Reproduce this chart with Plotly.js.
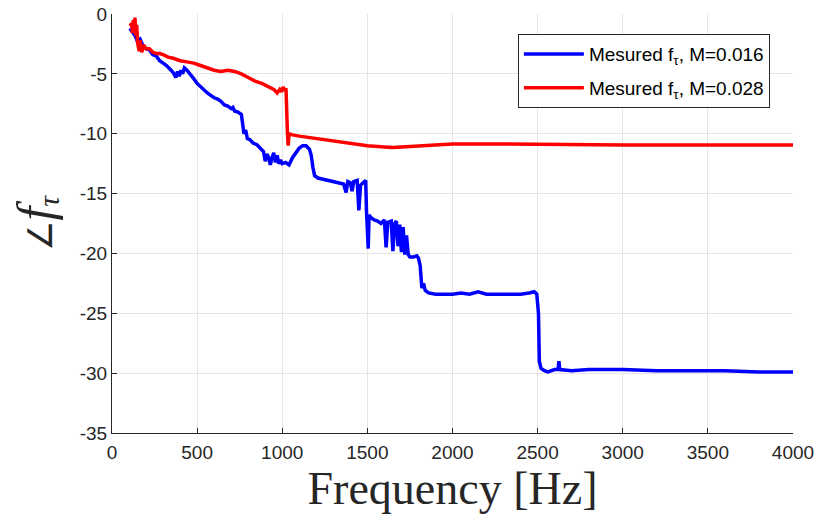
<!DOCTYPE html>
<html>
<head>
<meta charset="utf-8">
<script src="https://cdn.plot.ly/plotly-3.0.1.min.js"></script>
<style>html,body{margin:0;padding:0;background:#fff;}#chart{width:831px;height:514px;}</style>
</head>
<body>
<div id="chart"></div>
<script>
// Blue series: M = 0.016
const blueFreq = [105,120,135,150,165,180,200,220,240,260,280,300,320,340,360,375,385,395,405,415,425,440,460,480,500,520,540,560,580,600,620,640,660,680,700,710,720,740,760,770,775,785,795,810,830,850,870,890,900,910,920,930,940,950,960,970,980,990,1000,1020,1040,1060,1080,1100,1120,1140,1160,1170,1180,1190,1210,1240,1270,1300,1330,1360,1375,1385,1400,1410,1420,1440,1450,1460,1475,1490,1495,1505,1510,1520,1540,1560,1580,1600,1610,1620,1640,1650,1660,1670,1680,1690,1700,1710,1720,1730,1740,1750,1770,1790,1800,1810,1820,1830,1840,1860,1900,1950,2000,2050,2100,2150,2200,2300,2400,2450,2480,2495,2505,2510,2520,2540,2560,2600,2620,2625,2630,2700,2800,3000,3200,3400,3600,3800,4000];
const blueVal = [-1.2,-1.5,-1.8,-2.3,-2.1,-2.6,-2.9,-3.0,-3.4,-3.5,-3.9,-4.1,-4.3,-4.6,-4.9,-5.3,-4.8,-5.2,-4.7,-5.0,-4.5,-4.7,-5.0,-5.4,-5.8,-6.1,-6.3,-6.6,-6.8,-7.0,-7.1,-7.3,-7.6,-7.7,-7.9,-7.8,-8.1,-8.2,-8.4,-9.3,-10.0,-9.7,-10.4,-10.5,-10.8,-10.9,-11.2,-11.5,-12.3,-11.7,-12.0,-12.6,-12.0,-11.6,-12.4,-11.8,-12.5,-12.2,-12.5,-12.4,-12.6,-12.0,-11.6,-11.2,-11.0,-11.0,-11.3,-11.8,-12.8,-13.5,-13.7,-13.8,-13.9,-14.0,-14.1,-14.2,-14.9,-14.0,-14.1,-14.8,-14.0,-13.9,-16.4,-14.3,-14.1,-13.9,-16.5,-19.6,-16.8,-17.0,-17.2,-17.3,-17.5,-17.2,-19.5,-17.4,-17.3,-19.8,-17.5,-17.3,-19.4,-17.6,-19.9,-17.8,-20.1,-18.5,-20.1,-20.3,-20.3,-20.2,-20.4,-21.0,-22.9,-22.5,-23.1,-23.3,-23.4,-23.4,-23.4,-23.3,-23.4,-23.2,-23.4,-23.4,-23.4,-23.3,-23.2,-23.4,-25.0,-29.0,-29.6,-29.8,-29.9,-29.7,-29.7,-29.0,-29.7,-29.8,-29.7,-29.7,-29.8,-29.8,-29.8,-29.9,-29.9];
// Red series: M = 0.028
const redFreq = [105,115,120,125,130,135,140,145,150,160,165,175,185,200,220,240,260,280,300,330,360,400,440,480,520,560,600,640,680,720,760,800,840,880,920,950,970,985,995,1005,1015,1022,1030,1035,1040,1060,1100,1200,1300,1400,1500,1600,1650,1700,1800,1900,2000,2200,2500,3000,3500,4000];
const redVal = [-1.0,-0.8,-1.6,-0.5,-1.2,-0.3,-1.8,-0.9,-2.4,-3.1,-2.2,-3.2,-2.6,-2.9,-2.9,-3.2,-3.3,-3.3,-3.4,-3.6,-3.7,-3.9,-4.0,-4.1,-4.3,-4.5,-4.7,-4.8,-4.7,-4.8,-5.0,-5.3,-5.6,-5.8,-6.1,-6.3,-6.6,-6.3,-6.5,-6.1,-6.4,-6.2,-9.8,-11.0,-10.0,-10.1,-10.2,-10.4,-10.6,-10.8,-11.0,-11.1,-11.15,-11.1,-11.0,-10.9,-10.85,-10.85,-10.9,-10.95,-10.95,-10.95];
const seriesNames = ['Mesured f<sub>τ</sub>, M=0.016', 'Mesured f<sub>τ</sub>, M=0.028'];
const xTickVals = [0,500,1000,1500,2000,2500,3000,3500,4000];
const xTickText = ['0','500','1000','1500','2000','2500','3000','3500','4000'];
const yTickVals = [-35,-30,-25,-20,-15,-10,-5,0];
const yTickText = ['-35','-30','-25','-20','-15','-10','-5','0'];

const traces = [
  {x: blueFreq, y: blueVal, type: 'scatter', mode: 'lines', name: seriesNames[0], legendgroup: 'a',
   line: {color: '#0000ff', width: 3.5}},
  {x: redFreq, y: redVal, type: 'scatter', mode: 'lines', name: seriesNames[1], legendgroup: 'b',
   line: {color: '#ff0000', width: 3.5}}
];
const axisCommon = {
  showline: true, linecolor: '#262626', linewidth: 1,
  showgrid: true, gridcolor: '#e5e5e5', gridwidth: 1,
  ticks: 'inside', ticklen: 5, tickcolor: '#262626',
  zeroline: false, tickfont: {family: 'Liberation Sans, Arial, sans-serif', size: 19, color: '#262626'},
  mirror: false
};
const layout = {
  width: 831, height: 514,
  margin: {l: 112, r: 38, t: 14, b: 81},
  paper_bgcolor: '#fff', plot_bgcolor: '#fff',
  showlegend: true,
  legend: {x: 0.596, y: 0.952, xanchor: 'left', yanchor: 'top', bgcolor: '#fff',
    bordercolor: '#262626', borderwidth: 1, itemwidth: 60, tracegroupgap: 6,
    font: {family: 'Liberation Sans, Arial, sans-serif', size: 19, color: '#000'}},
  xaxis: Object.assign({}, axisCommon, {range: [0, 4000], tickvals: xTickVals, ticktext: xTickText,
    ticklabelstandoff: 2,
    title: {text: 'Frequency [Hz]', font: {family: 'Liberation Serif, serif', size: 46, color: '#262626'}, standoff: 4}}),
  yaxis: Object.assign({}, axisCommon, {range: [-35, 0], tickvals: yTickVals, ticktext: yTickText,
    title: {text: '<span style="font-family:DejaVu Sans;font-size:34px">∠</span><span style="font-size:50px"><i>f</i></span><sub><span style="font-size:30px"><i>τ</i></span></sub>',
      font: {family: 'Liberation Serif, serif', size: 34, color: '#262626'}, standoff: 16}})
};
Plotly.newPlot('chart', traces, layout, {displayModeBar: false, staticPlot: true});
</script>
</body>
</html>
